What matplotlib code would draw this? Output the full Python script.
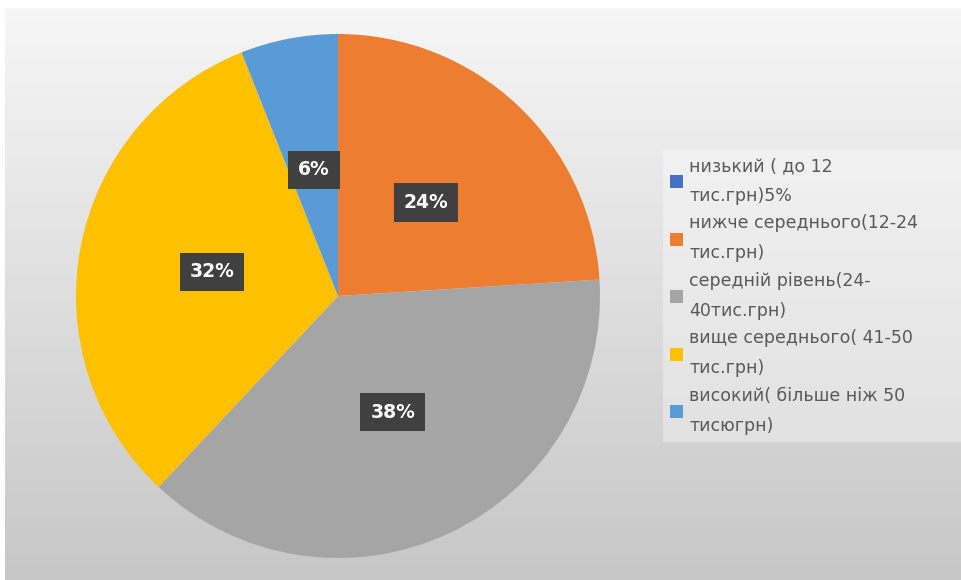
import numpy as np
from matplotlib import pyplot as plt

labels = ['низький ( до 12\nтис.грн)5%',
          'нижче середнього(12-24\nтис.грн)',
          'середній рівень(24-\n40тис.грн)',
          'вище середнього( 41-50\nтис.грн)',
          'високий( більше ніж 50\nтисюгрн)']
values = [0, 24, 38, 32, 6]
colors = ['#4472C4', '#ED7D31', '#A5A5A5', '#FFC000', '#5B9BD5']

W, H = 962, 580
fig = plt.figure(figsize=(W / 100, H / 100), dpi=100, facecolor='white')

# achtergrond: grijs verloop, witte rand boven en links
bg = fig.add_axes([5 / W, 0, 957 / W, 572 / H])
grad = np.linspace(0.965, 0.78, 256)
img = np.dstack([grad, grad, grad]).reshape(256, 1, 3)
bg.imshow(img, aspect='auto', extent=[0, 1, 0, 1], interpolation='bilinear')
bg.set_axis_off()

# taart
cx, cy, r = 338, 296, 262
s = r * 1.02
ax = fig.add_axes([(cx - s) / W, (H - cy - s) / H, 2 * s / W, 2 * s / H])


def pct(p):
    return '' if p < 0.5 else '%d%%' % round(p)


wedges, texts, autotexts = ax.pie(values, colors=colors, startangle=90, counterclock=False,
                                  autopct=pct, pctdistance=0.49, radius=1.0)
for t in autotexts:
    t.set_color('white')
    t.set_fontweight('bold')
    t.set_fontsize(13.5)
    t.set_bbox(dict(boxstyle='square,pad=0.52', fc='#404040', ec='none'))
ax.set_xlim(-1.02, 1.02)
ax.set_ylim(-1.02, 1.02)
ax.set_aspect('equal')

leg = fig.legend(wedges, labels, loc='upper left',
                 bbox_to_anchor=(663 / W, 1 - 150 / H, (W - 663) / W, 0.0), mode='expand',
                 fontsize=12.5, frameon=True, fancybox=False, borderpad=0.4,
                 handlelength=0.75, handleheight=0.75, handletextpad=0.35,
                 labelspacing=0.55, borderaxespad=0)
leg.get_frame().set_facecolor('white')
leg.get_frame().set_alpha(0.35)
leg.get_frame().set_edgecolor('none')
for t in leg.get_texts():
    t.set_color('#595959')
    t.set_linespacing(1.85)

fig.savefig('out.png', dpi=100, facecolor='white')
